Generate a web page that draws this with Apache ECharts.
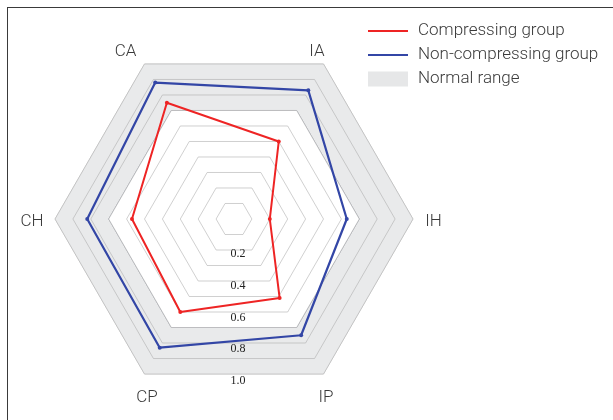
<!DOCTYPE html>
<html><head><meta charset="utf-8">
<script src="https://cdn.jsdelivr.net/npm/echarts@6/dist/echarts.min.js"></script>
<style>
html,body{margin:0;padding:0;background:#fff;}
#frame{position:absolute;left:7px;top:7px;width:606px;height:413px;border-left:1.5px solid #3a3a3a;border-top:1.5px solid #3a3a3a;box-sizing:border-box;}
#chart{position:absolute;left:0;top:0;width:613px;height:420px;}
</style></head>
<body><div id="frame"></div><div id="chart"></div>
<script>
// Indicators, counterclockwise starting at the upper-right vertex
const indicators = ['IA', 'CA', 'CH', 'CP', 'IP', 'IH'];
const compressing = [0.50, 0.75, 0.57, 0.60, 0.51, 0.20];
const nonCompressing = [0.83, 0.88, 0.82, 0.83, 0.75, 0.63];
const normalUpper = [1.0, 1.0, 1.0, 1.0, 1.0, 1.0];
const normalLower = [0.7, 0.7, 0.7, 0.7, 0.7, 0.7];
const scaleTicks = [0.2, 0.4, 0.6, 0.8, 1.0];
const seriesNames = ['Compressing group', 'Non-compressing group', 'Normal range'];

const nameFont = { fontFamily: 'Roboto', fontSize: 17, fontWeight: 300, color: '#3a3a3a' };
const namePad = {
  IA: [2, 28, 0, 0], CA: [2, 23, 0, 0], CH: [6, 16, 0, 0],
  CP: [21, 0, 0, 20], IP: [21, 10, 0, 0], IH: [6, 0, 0, 11]
};
const rich = {};
indicators.forEach(n => { rich[n] = Object.assign({ padding: namePad[n] }, nameFont); });

const chart = echarts.init(document.getElementById('chart'));
const lineIcon = 'path://M0,0 L0,0 M0,6.5 L40,6.5 L40,8.5 L0,8.5 Z M40,15 L40,15';
chart.setOption({
  animation: false,
  legend: {
    orient: 'vertical', left: 363, top: 17.5,
    itemWidth: 40, itemHeight: 15, itemGap: 7,
    textStyle: { fontFamily: 'Roboto', fontSize: 17, fontWeight: 300, color: '#3a3a3a', lineHeight: 17, padding: [0, 0, 0, 5] },
    data: [
      { name: seriesNames[0], icon: lineIcon },
      { name: seriesNames[1], icon: lineIcon },
      { name: seriesNames[2], icon: 'rect' }
    ]
  },
  radar: {
    z: 3,
    center: [234, 219], radius: 179, startAngle: 60,
    splitNumber: 10, shape: 'polygon', nameGap: 15,
    indicator: indicators.map(n => ({ name: n, min: 0, max: 1 })),
    axisName: Object.assign({ align: 'center', verticalAlign: 'middle', formatter: n => '{' + n + '|' + n + '}', rich: rich }, nameFont),
    axisLine: { show: false },
    splitLine: { lineStyle: { color: 'rgba(170,170,170,0.55)', width: 1 } },
    splitArea: { show: false }
  },
  grid: { left: 238, top: 222, height: 159, width: 1 },
  xAxis: { type: 'value', show: false, min: 0, max: 1 },
  yAxis: {
    type: 'value', min: 0, max: 1, interval: 0.2, inverse: true, z: 10,
    axisLine: { show: false }, axisTick: { show: false }, splitLine: { show: false },
    axisLabel: {
      customValues: scaleTicks, margin: 0, align: 'center', verticalAlign: 'middle',
      fontFamily: 'Liberation Serif', fontSize: 12, color: '#222',
      formatter: v => v.toFixed(1)
    }
  },
  series: [
    {
      name: seriesNames[2], type: 'radar', z: 1, symbol: 'none', silent: true,
      itemStyle: { color: '#e6e7e8' },
      data: [
        { value: normalUpper, lineStyle: { color: '#dcdcdc', width: 1 }, areaStyle: { color: '#e9eaeb', opacity: 1 } },
        { value: normalLower, lineStyle: { color: '#a9adb6', width: 1 }, areaStyle: { color: '#ffffff', opacity: 1 } }
      ]
    },
    {
      name: seriesNames[0], type: 'radar', z: 5, symbol: 'circle', symbolSize: 4,
      itemStyle: { color: '#ee2424' }, lineStyle: { color: '#ee2424', width: 2 },
      data: [{ value: compressing }]
    },
    {
      name: seriesNames[1], type: 'radar', z: 5, symbol: 'circle', symbolSize: 4,
      itemStyle: { color: '#3346a6' }, lineStyle: { color: '#3346a6', width: 2.2 },
      data: [{ value: nonCompressing }]
    }
  ]
});
</script></body></html>
